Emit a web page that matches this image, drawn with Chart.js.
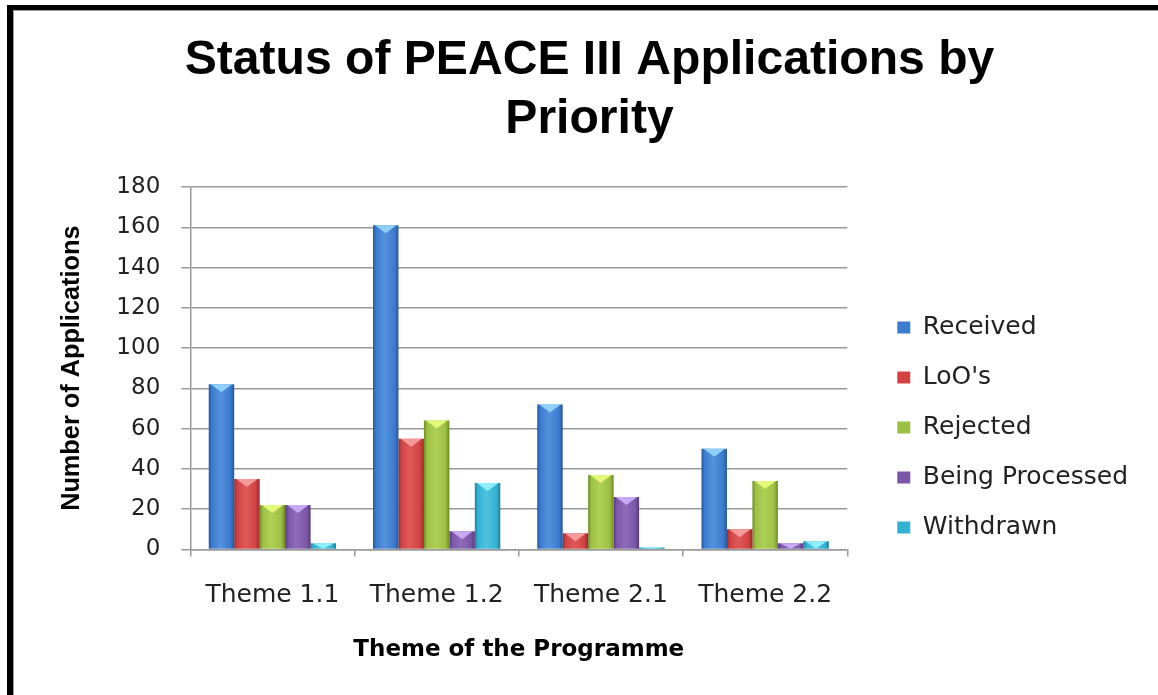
<!DOCTYPE html>
<html>
<head>
<meta charset="utf-8">
<script src="https://cdn.jsdelivr.net/npm/chart.js@4.4.1/dist/chart.umd.min.js"></script>
<style>
html,body{margin:0;padding:0;background:#fff;}
#wrap{position:relative;width:1158px;height:695px;overflow:hidden;}
#frame{position:absolute;left:7px;top:5px;width:1300px;height:900px;border-top:5px solid #000;border-left:6px solid #000;box-sizing:border-box;box-shadow:inset 1px 1px 0 #999;}
#c{position:absolute;left:0;top:0;}
</style>
</head>
<body>
<div id="wrap"><div id="frame"></div><canvas id="c" width="1158" height="695"></canvas></div>
<script>
// ---- data ----
const categories = ['Theme 1.1', 'Theme 1.2', 'Theme 2.1', 'Theme 2.2'];
const seriesNames = ['Received', "LoO's", 'Rejected', 'Being Processed', 'Withdrawn'];
const received = [82, 161, 72, 50];
const loos = [35, 55, 8, 10];
const rejected = [22, 64, 37, 34];
const beingProcessed = [22, 9, 26, 3];
const withdrawn = [3, 33, 1, 4];
const yTickValues = [0, 20, 40, 60, 80, 100, 120, 140, 160, 180];
const titleLines = ['Status of PEACE III Applications by', 'Priority'];
const xTitle = 'Theme of the Programme';
const yTitle = 'Number of Applications';

// ---- styles ----
const palette = [
  {main: '#3b7bd0', edge: '#24579a', light: '#5592dc', cap: '#8fd0f8'},
  {main: '#d24242', edge: '#972828', light: '#de5a5a', cap: '#f59a9a'},
  {main: '#9cc043', edge: '#6b8a26', light: '#aed057', cap: '#e4f87a'},
  {main: '#7c56a8', edge: '#55377a', light: '#8e6bb9', cap: '#c8a8f2'},
  {main: '#33b2d3', edge: '#1f8099', light: '#4fc3de', cap: '#8eeefc'}
];
const seriesData = [received, loos, rejected, beingProcessed, withdrawn];

const narrowFamily = "'Liberation Sans Narrow', 'Liberation Sans', Arial, sans-serif";
const wideFamily = "'DejaVu Sans', Verdana, sans-serif";

const mctx = document.createElement('canvas').getContext('2d');
function fitSize(text, family, target) {
  mctx.font = 'bold 100px ' + family;
  return Math.round(target / mctx.measureText(text).width * 1000) / 10;
}
const titleSize = fitSize(titleLines[0], narrowFamily, 810);
const yTitleSize = fitSize(yTitle, narrowFamily, 285);

const bevel = {
  id: 'bevel',
  beforeDatasetsDraw(chart) {
    const ctx = chart.ctx;
    chart.data.datasets.forEach((ds, di) => {
      const p = palette[di];
      chart.getDatasetMeta(di).data.forEach(el => {
        const l = el.x - el.width / 2, r = el.x + el.width / 2;
        const g = ctx.createLinearGradient(l, 0, r, 0);
        g.addColorStop(0, p.edge);
        g.addColorStop(0.12, p.main);
        g.addColorStop(0.45, p.light);
        g.addColorStop(0.85, p.main);
        g.addColorStop(1, p.edge);
        el.options = Object.assign({}, el.options, {backgroundColor: g});
      });
    });
  },
  afterDatasetsDraw(chart) {
    const ctx = chart.ctx;
    chart.data.datasets.forEach((ds, di) => {
      const p = palette[di];
      chart.getDatasetMeta(di).data.forEach(el => {
        const l = el.x - el.width / 2, r = el.x + el.width / 2;
        const h = Math.min(8, Math.abs(el.base - el.y));
        ctx.save();
        ctx.fillStyle = p.cap;
        ctx.beginPath();
        ctx.moveTo(l + 2, el.y);
        ctx.lineTo(r - 2, el.y);
        ctx.lineTo(el.x, el.y + h);
        ctx.closePath();
        ctx.fill();
        ctx.restore();
      });
    });
  }
};

const gridColor = '#9a9a9a';

new Chart(document.getElementById('c'), {
  type: 'bar',
  data: {
    labels: categories,
    datasets: seriesNames.map((name, i) => ({
      label: name,
      data: seriesData[i],
      backgroundColor: palette[i].main,
      borderWidth: 0,
      categoryPercentage: 0.775,
      barPercentage: 1.0
    }))
  },
  plugins: [bevel],
  options: {
    responsive: false,
    animation: false,
    layout: {padding: {left: 41, right: 20, top: 0, bottom: 26}},
    plugins: {
      title: {
        display: true,
        text: titleLines,
        color: '#000',
        font: {family: narrowFamily, size: titleSize, weight: 'bold', lineHeight: 59 / titleSize},
        padding: {top: 31, bottom: 38}
      },
      legend: {
        position: 'right',
        align: 'start',
        maxWidth: 400,
        title: {display: true, text: '', font: {size: 1, lineHeight: 1}, padding: {top: 289, bottom: 0}},
        labels: {
          boxWidth: 13,
          boxHeight: 12,
          padding: 25,
          color: '#222',
          font: {family: wideFamily, size: 25}
        }
      },
      tooltip: {enabled: false}
    },
    scales: {
      x: {
        offset: true,
        grid: {display: true, drawOnChartArea: false, drawTicks: true, tickLength: 7, color: gridColor, lineWidth: 1.5, offset: true},
        border: {display: true, color: gridColor, width: 1.5},
        ticks: {color: '#222', font: {family: wideFamily, size: 25}, padding: 24},
        title: {display: true, text: xTitle, color: '#000', font: {family: wideFamily, size: 23, weight: 'bold'}, padding: {top: 2, bottom: 5}}
      },
      y: {
        min: 0,
        max: 180,
        afterBuildTicks(scale) { scale.ticks = yTickValues.map(v => ({value: v})); },
        grid: {color: gridColor, lineWidth: 1.5, tickLength: 9},
        border: {display: true, color: gridColor, width: 1.5},
        ticks: {color: '#222', font: {family: wideFamily, size: 23}, padding: 21},
        title: {display: true, text: yTitle, color: '#000', font: {family: narrowFamily, size: yTitleSize, weight: 'bold'}, padding: {top: 16, bottom: 8}}
      },
      gap: {
        type: 'linear',
        position: 'right',
        display: true,
        grid: {display: false},
        border: {display: false},
        ticks: {display: false},
        afterFit(scale) { scale.width = 25; }
      }
    }
  }
});
</script>
</body>
</html>
